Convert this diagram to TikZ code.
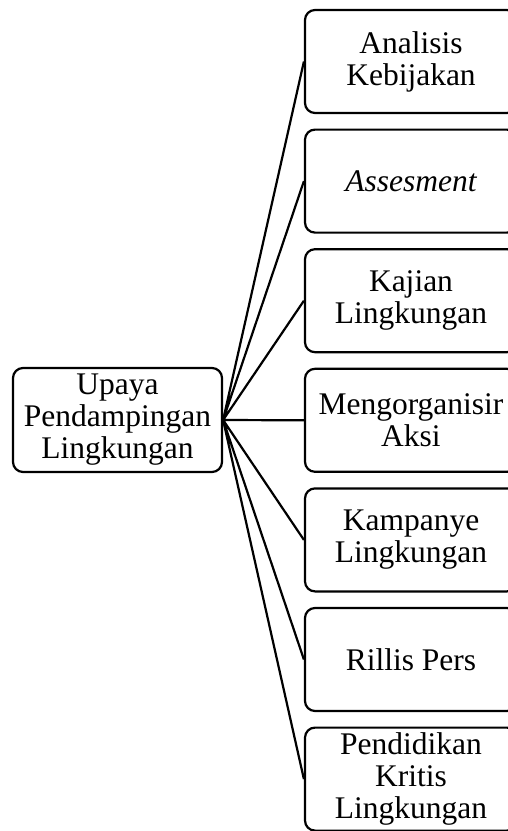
\documentclass[tikz,border=0pt]{standalone}
\usepackage{fontspec}
\setmainfont{Liberation Serif}
\begin{document}
\begin{tikzpicture}[x=1pt,y=-1pt,
    kotak/.style={draw,line width=2.2pt,rounded corners=10pt,align=center,
      font=\fontsize{31.5}{32}\selectfont,inner sep=0pt},
    cabang/.style={kotak,minimum width=212pt,minimum height=103pt},
    garis/.style={line width=2.2pt}]
  \useasboundingbox (0,0) rectangle (507,831);
  \def\jarak{119.6} % jarak antar kotak kanan
  \node[kotak,minimum width=209pt,minimum height=104pt] (upaya) at (117.5,420)
      {Upaya\\Pendampingan\\Lingkungan};
  \node[cabang] (analisis) at (411,61.5) {Analisis\\Kebijakan};
  \node[cabang] (assesment) at (411,61.5+\jarak) {\itshape Assesment};
  \node[cabang] (kajian) at (411,61.5+2*\jarak) {Kajian\\Lingkungan};
  \node[cabang] (aksi) at (411,61.5+3*\jarak) {Mengorganisir\\Aksi};
  \node[cabang] (kampanye) at (411,61.5+4*\jarak) {Kampanye\\Lingkungan};
  \node[cabang] (rillis) at (411,61.5+5*\jarak) {Rillis Pers};
  \node[cabang] (pendidikan) at (411,61.5+6*\jarak) {Pendidikan\\Kritis\\Lingkungan};
  \draw[garis] (upaya.east) -- (analisis.west)
      (upaya.east) -- (assesment.west)
      (upaya.east) -- (kajian.west)
      (upaya.east) -- (aksi.west)
      (upaya.east) -- (kampanye.west)
      (upaya.east) -- (rillis.west)
      (upaya.east) -- (pendidikan.west);
\end{tikzpicture}
\end{document}
